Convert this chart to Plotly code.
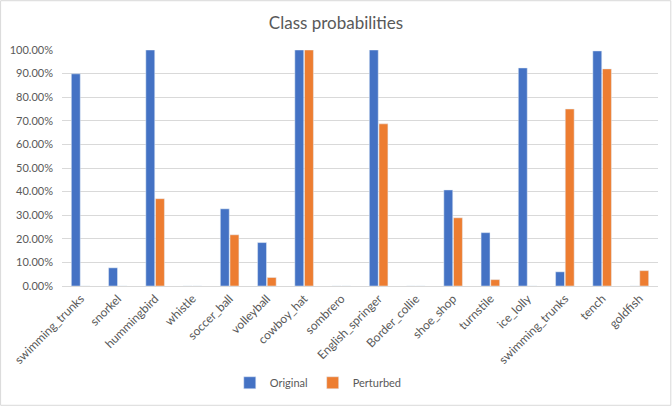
import plotly.graph_objects as go

classes = [
    "swimming_trunks", "snorkel", "hummingbird", "whistle", "soccer_ball",
    "volleyball", "cowboy_hat", "sombrero", "English_springer", "Border_collie",
    "shoe_shop", "turnstile", "ice_lolly", "swimming_trunks", "tench", "goldfish",
]
original = [0.899, 0.077, 1.0, 0.0, 0.327, 0.184, 1.0, 0.0,
            1.0, 0.0, 0.407, 0.226, 0.924, 0.06, 0.996, 0.0]
perturbed = [0.0, 0.0, 0.37, 0.0, 0.217, 0.036, 1.0, 0.0,
             0.687, 0.0, 0.289, 0.027, 0.0, 0.75, 0.92, 0.065]

positions = list(range(len(classes)))
text_color = "#595959"
grid_color = "#d9d9d9"

fig = go.Figure()
fig.add_trace(go.Bar(x=positions, y=original, name="Original", marker_color="#4472C4"))
fig.add_trace(go.Bar(x=positions, y=perturbed, name="Perturbed", marker_color="#ED7D31"))

# margins in px, used to draw the chart border around the whole figure
ml, mr, mt, mb = 62, 14, 50, 120
pw, ph = 672 - ml - mr, 406 - mt - mb

fig.update_layout(
    width=672,
    height=406,
    margin=dict(l=ml, r=mr, t=mt, b=mb, autoexpand=False),
    paper_bgcolor="white",
    plot_bgcolor="white",
    font=dict(family="Lato, Open Sans, sans-serif", size=11, color=text_color),
    title=dict(text="Class probabilities", x=0.5, xanchor="center",
               y=1 - 23 / 406, yanchor="middle",
               font=dict(size=17, color=text_color)),
    barmode="group",
    bargap=0.48,
    bargroupgap=0.08,
    showlegend=True,
    legend=dict(orientation="h", x=0.43, xanchor="center", y=-0.41, yanchor="middle",
                itemwidth=30, font=dict(size=11, color=text_color)),
    xaxis=dict(
        tickmode="array",
        tickvals=positions,
        ticktext=classes,
        tickangle=-45,
        tickfont=dict(size=12),
        showgrid=False,
        showline=True,
        linecolor=grid_color,
        ticks="",
        automargin=False,
        range=[-0.5, len(classes) - 0.5],
    ),
    yaxis=dict(
        range=[0, 1],
        dtick=0.1,
        tickformat=".2%",
        ticklabelstandoff=8,
        showgrid=True,
        gridcolor=grid_color,
        zeroline=False,
        showline=False,
        ticks="",
        automargin=False,
    ),
    shapes=[dict(
        type="rect", xref="paper", yref="paper",
        x0=-ml / pw + 0.001, x1=1 + mr / pw - 0.002,
        y0=-mb / ph + 0.003, y1=1 + mt / ph - 0.003,
        line=dict(color=grid_color, width=1),
    )],
)

# drop the default page margin so the figure sits at the window's top-left corner
fig.write_html(
    "out.html",
    config={"displayModeBar": False},
    post_script="document.body.style.margin = '0';",
)
